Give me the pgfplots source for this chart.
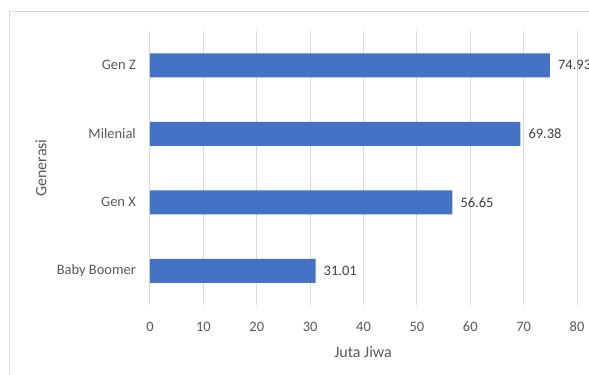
\documentclass[border=0pt]{standalone}
\usepackage{pgfplots}
\pgfplotsset{compat=1.18}
\usepackage{fontspec}
\setmainfont{Carlito}
\definecolor{barblue}{HTML}{4472C4}
\definecolor{gridgray}{HTML}{D9D9D9}
\definecolor{ticktext}{HTML}{595959}
\definecolor{labeltext}{HTML}{404040}
\begin{document}
\begin{tikzpicture}[x=1bp,y=1bp]
\begin{axis}[
  scale only axis, width=427bp, height=274bp,
  xmin=0, xmax=80, ymin=-0.5, ymax=3.5,
  xtick={0,10,...,80},
  ytick={0,1,2,3},
  yticklabels={Baby Boomer, Gen X, Milenial, Gen Z},
  axis line style={draw=none},
  major tick length=0pt,
  xmajorgrids,
  major grid style={gridgray, line width=1bp},
  /pgf/number format/assume math mode=true,
  tick label style={font=\fontsize{14.5}{17}\selectfont, text=ticktext, inner sep=0pt},
  xticklabel style={anchor=base, yshift=-26bp},
  yticklabel style={anchor=east, xshift=-14bp},
  xlabel={Juta Jiwa}, ylabel={Generasi},
  label style={font=\fontsize{16}{19}\selectfont, text=ticktext, inner sep=0pt},
  xlabel style={at={(axis description cs:0.499,-0.1715)}, anchor=center},
  ylabel style={at={(axis description cs:-0.2553,0.5)}, anchor=center},
  xbar, bar width=24bp,
  nodes near coords,
  nodes near coords style={anchor=west, xshift=8bp, inner sep=0pt, text=labeltext, font=\fontsize{14.5}{17}\selectfont,
    /pgf/number format/.cd, fixed, fixed zerofill, precision=2, assume math mode=true},
  clip=false,
]
\addplot[fill=barblue, draw=none] coordinates {(31.01,0) (56.65,1) (69.38,2) (74.93,3)};
\coordinate (O) at (axis cs:0,-0.5);
\end{axis}
\draw[gridgray, line width=1bp] ([shift={(-140,-100)}]O) -- ([shift={(-140,293)}]O) -- ([shift={(480,293)}]O);
\pgfresetboundingbox
\path[use as bounding box] ([shift={(-150,-69)}]O) rectangle ++(589,374);
\end{tikzpicture}
\end{document}
